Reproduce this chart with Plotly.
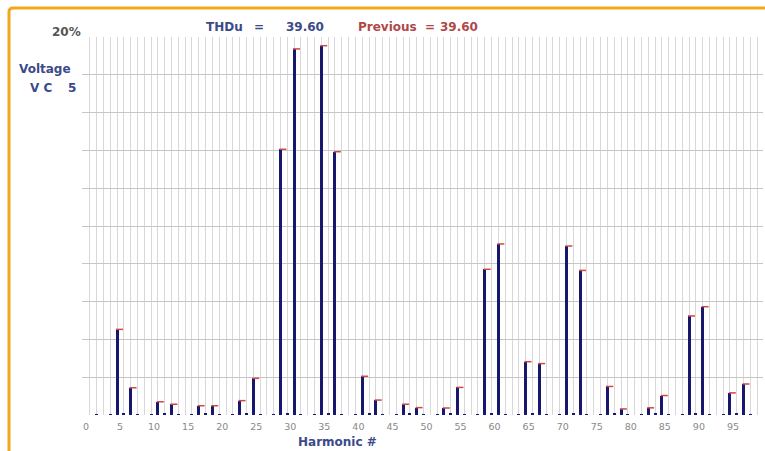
import plotly.graph_objects as go

# ---- data ----
main_harmonics = [5, 7, 11, 13, 17, 19, 23, 25, 29, 31, 35, 37, 41, 43, 47, 49,
                  53, 55, 59, 61, 65, 67, 71, 73, 77, 79, 83, 85, 89, 91, 95, 97]
main_values = [4.53, 1.44, 0.70, 0.57, 0.49, 0.49, 0.76, 1.94, 14.06, 19.37, 19.54, 13.93,
               2.05, 0.79, 0.57, 0.39, 0.37, 1.46, 7.71, 9.05, 2.82, 2.72, 8.94, 7.65,
               1.51, 0.32, 0.38, 1.03, 5.24, 5.73, 1.17, 1.64]
previous_values = [4.53, 1.44, 0.70, 0.57, 0.49, 0.49, 0.76, 1.94, 14.06, 19.37, 19.54, 13.93,
                   2.05, 0.79, 0.57, 0.39, 0.37, 1.46, 7.71, 9.05, 2.82, 2.72, 8.94, 7.65,
                   1.51, 0.32, 0.38, 1.03, 5.24, 5.73, 1.17, 1.64]
small_harmonics = [2, 4, 6, 8, 10, 12, 14, 16, 18, 20, 22, 24, 26, 28, 30, 32, 34, 36, 38, 40,
                   42, 44, 46, 48, 50, 52, 54, 56, 58, 60, 62, 64, 66, 68, 70, 72, 74, 76, 78,
                   80, 82, 84, 86, 88, 90, 92, 94, 96, 98]
small_values = [0.05, 0.05, 0.12, 0.05, 0.05, 0.12, 0.05, 0.05, 0.12, 0.05, 0.05, 0.12, 0.05,
                0.05, 0.12, 0.05, 0.05, 0.12, 0.05, 0.05, 0.12, 0.05, 0.05, 0.12, 0.05, 0.05,
                0.12, 0.05, 0.05, 0.12, 0.05, 0.05, 0.12, 0.05, 0.05, 0.12, 0.05, 0.05, 0.12,
                0.05, 0.05, 0.12, 0.05, 0.05, 0.12, 0.05, 0.05, 0.12, 0.05]
tick_values = [0, 5, 10, 15, 20, 25, 30, 35, 40, 45, 50, 55, 60, 65, 70, 75, 80, 85, 90, 95]
tick_labels = ["0", "5", "10", "15", "20", "25", "30", "35", "40", "45",
               "50", "55", "60", "65", "70", "75", "80", "85", "90", "95"]
thd_now = "39.60"
thd_prev = "39.60"

W, H = 765, 451
L, R, T, B = 82, 2, 37, 36
PW, PH = W - L - R, H - T - B

def px(x):
    return (x - L) / PW

def py(y):
    return (H - B - y) / PH

NAVY = "#17176e"
BLUE_TXT = "#3b4a8a"
RED_TXT = "#b04848"
FONT = "DejaVu Sans"

fig = go.Figure()
fig.add_trace(go.Bar(x=main_harmonics, y=main_values, width=0.44,
                     marker=dict(color=NAVY, line=dict(width=0)), showlegend=False))
fig.add_trace(go.Bar(x=small_harmonics, y=small_values, width=0.44,
                     marker=dict(color=NAVY, line=dict(width=0)), showlegend=False))
fig.add_trace(go.Scatter(x=[h + 0.35 for h in main_harmonics], y=previous_values,
                         mode="markers",
                         marker=dict(symbol="line-ew", size=5,
                                     line=dict(color="#d04848", width=1.5)),
                         showlegend=False))

fig.update_layout(
    width=W, height=H,
    margin=dict(l=L, r=R, t=T, b=B, pad=0),
    paper_bgcolor="white", plot_bgcolor="white",
    barmode="overlay", bargap=0,
    font=dict(family=FONT),
    xaxis=dict(range=[-0.147, 99.85], tickmode="array", tickvals=tick_values,
               ticktext=tick_labels, showgrid=True, gridcolor="#d8d8d8", gridwidth=1,
               minor=dict(tickmode="linear", tick0=0, dtick=1, showgrid=True,
                          gridcolor="#d8d8d8", gridwidth=1),
               zeroline=False, showline=False, ticks="", ticklabelshift=3,
               ticklabelstandoff=4,
               tickfont=dict(size=9.5, color="#888888", family=FONT)),
    yaxis=dict(range=[0, 20], dtick=2, showgrid=True, gridcolor="#c6c6c6",
               gridwidth=1, zeroline=False, showline=False, showticklabels=False,
               ticks=""),
)

def ann(text, x, y, color, size=12, bold=True):
    fig.add_annotation(xref="paper", yref="paper", x=px(x), y=py(y), text=(f"<b>{text}</b>" if bold else text),
                       showarrow=False, xanchor="center", yanchor="middle",
                       font=dict(family=FONT, size=size, color=color))

ann("20%", 66.7, 32, "#555555")
ann("Voltage", 45, 69, BLUE_TXT)
ann("V C", 41, 88, BLUE_TXT)
ann("5", 72, 88, BLUE_TXT)
ann("THDu", 224, 26.5, BLUE_TXT)
ann("=", 258.5, 26.5, BLUE_TXT)
ann(thd_now, 304.5, 26.5, BLUE_TXT)
ann("Previous", 387, 26.5, RED_TXT)
ann("=", 430, 26.5, RED_TXT)
ann(thd_prev, 459, 26.5, RED_TXT)
ann("Harmonic #", 337.5, 441.7, BLUE_TXT)

# orange frame (top and left edges, rounded top-left corner)
xl, yt = px(9), py(8)
yb = py(470)
xr = px(790)
rx, ry = 4 / PW, 4 / PH
fig.add_shape(type="path", xref="paper", yref="paper",
              path=f"M {xl},{yb} L {xl},{yt - ry} Q {xl},{yt} {xl + rx},{yt} L {xr},{yt}",
              line=dict(color="#f2a81d", width=3), layer="above")

fig.write_html("out.html", config={"displayModeBar": False},
               post_script="document.body.style.margin='0px';document.body.style.overflow='hidden';")
